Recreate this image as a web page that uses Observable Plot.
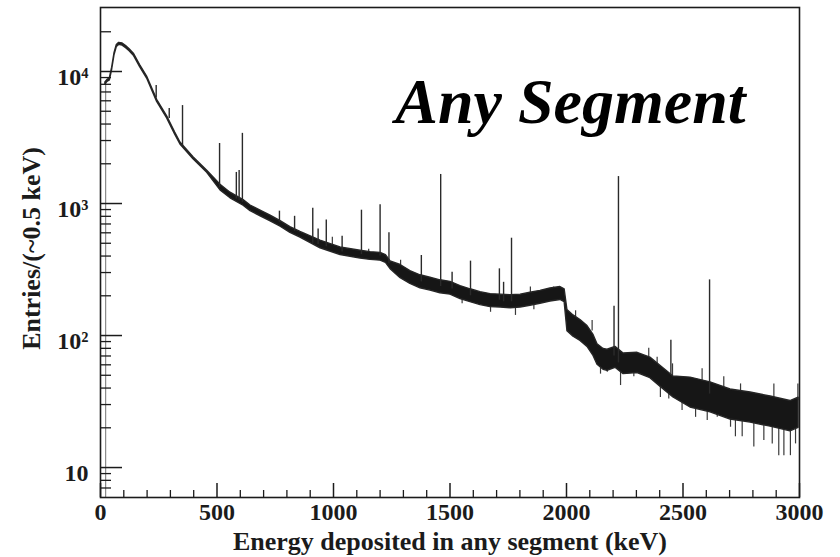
<!DOCTYPE html>
<html><head><meta charset="utf-8">
<script src="https://cdn.jsdelivr.net/npm/d3@7"></script>
<script src="https://cdn.jsdelivr.net/npm/@observablehq/plot@0.6"></script>
<style>body{margin:0;background:#fff}#chart svg{display:block}</style>
</head><body><div id="chart"></div>
<script>
// ---- data ----
// continuum band (energy in keV, lower / upper edge of the dense trace, entries per 0.5 keV)
const bandEnergy = [21,30,40,50,60,70,80,95,110,125,143,170,200,243,286,320,343,399,458,515,558,614,644,687,730,773,815,858,944,1030,1116,1159,1202,1225,1245,1288,1330,1373,1416,1459,1502,1545,1588,1631,1674,1717,1760,1803,1845,1888,1931,1974,1992,2004,2030,2060,2090,2116,2133,2159,2176,2210,2245,2305,2360,2403,2459,2532,2618,2704,2790,2876,2961,2996];
const bandLow = [7960,8350,8550,10310,13260,15320,15910,15720,15030,14240,13160,10810,8840,5890,4420,3340,2800,2160,1710,1257,1095,962,876,800,733,667,600,552,458,407,383,374,369,355,318,272,246,228,219,209,204,189,179,170,164,163,161,163,168,174,181,186,179,108,98,91,82,70,60,55,54,57,51,52,47.5,41,34,28.5,26.2,23.1,21.9,20.4,18.8,20];
const bandHigh = [8250,8650,8860,10690,13740,15880,16490,16290,15580,14760,13640,11200,9160,6110,4580,3460,2900,2240,1770,1386,1208,1061,966,882,809,735,662,609,524,465,439,428,423,407,364,342,308,286,274,262,255,237,224,213,206,204,202,204,211,218,227,233,224,156,142,131,118,101,86,79,78,82,73,74,68,59,49,48,44.2,39,37,34.5,31.9,33.8];

// gamma lines (energy, continuum under the line, top of the line)
const peakEnergy = [239,295,352,511,583,595,609,768,833,911,934,969,1037,1120,1200,1238,1377,1460,1509,1588,1712,1730,1764,2204,2223,2448,2614];
const peakBase = [6300,4400,2750,1320,1080,1050,1020,720,615,500,490,470,430,410,400,350,255,235,225,200,185,180,180,70,62,50,36];
const peakTop = [7830,5250,5520,2850,1720,1780,3400,875,800,920,640,750,565,890,980,600,404,1660,302,366,320,253,546,167,1600,92,264];

// statistical fluctuations sticking out of the band (energy, from, to)
const spikeEnergy = [995,1151,1273,1288,1552,1674,1781,1845,1860,1945,2039,2110,2146,2175,2232,2289,2353,2389,2403,2439,2455,2496,2554,2582,2604,2647,2675,2704,2725,2747,2754,2804,2847,2883,2890,2911,2933,2961,2983,2993];
const spikeFrom = [480,430,300,336,193,167,165,207,172,225,136,108,62,58,55,55,68,60,44,40,48,33,30,44,28,27,39,25,25,36,24,23,22,21.5,33,21,20.5,20,21,32];
const spikeTo = [556,450,285,372,174,150,142,233,157,233,154,130,51,52.6,41.8,48.7,80,68.6,34,33,61,27,24,56,22.7,24,48.7,20.2,17.1,43,17.1,14.3,16,15.1,43,12.3,12.3,12.3,15.1,43];

// low-energy threshold edge of the histogram
const thresholdEnergy = [22];
const thresholdTop = [8100];

const xMajorTicks = [0,500,1000,1500,2000,2500,3000];
const xMinorTicks = [100,200,300,400,600,700,800,900,1100,1200,1300,1400,1600,1700,1800,1900,2100,2200,2300,2400,2600,2700,2800,2900];
const yMajorTicks = [10,100,1000,10000];
const yTickLabels = ["10","10²","10³","10⁴"];
const yMinorTicks = [7,8,9,20,30,40,50,60,70,80,90,200,300,400,500,600,700,800,900,2000,3000,4000,5000,6000,7000,8000,9000,20000];

const xDomain = [0, 3000];
const yDomain = [5.93, 30540];

const titleText = "Any Segment";
const xTitle = "Energy deposited in any segment (keV)";
const yTitle = "Entries/(~0.5 keV)";

// ---- build tables ----
const band = bandEnergy.map((e,i)=>({e, lo: bandLow[i], hi: bandHigh[i]}));
const peaks = peakEnergy.map((e,i)=>({e, b: peakBase[i], t: peakTop[i]}));
const spikes = spikeEnergy.map((e,i)=>({e, a: spikeFrom[i], b: spikeTo[i]}));
const threshold = thresholdEnergy.map((e,i)=>({e, t: thresholdTop[i]}));

const W = 840, H = 557, mL = 100, mR = 41, mT = 7, mB = 60;
const pw = W - mL - mR, ph = H - mT - mB;
const serif = "'Liberation Serif','Times New Roman',serif";
const ink = "#1b1b1b";

const chart = Plot.plot({
  width: W, height: H,
  marginLeft: mL, marginRight: mR, marginTop: mT, marginBottom: mB,
  x: {domain: xDomain, axis: null},
  y: {type: "log", domain: yDomain, axis: null},
  style: {fontFamily: serif, background: "#fff", color: ink, overflow: "visible"},
  marks: [
    Plot.ruleX(threshold, {x: "e", y1: yDomain[0], y2: "t", stroke: "#8a8a8a", strokeWidth: 1.2}),
    Plot.ruleX(spikes, {x: "e", y1: "a", y2: "b", stroke: "#3a3a3a", strokeWidth: 1.2}),
    Plot.areaY(band, {x: "e", y1: "lo", y2: "hi", fill: "#161616", stroke: "#262626", strokeWidth: 1.4, strokeLinejoin: "round"}),
    Plot.ruleX(peaks, {x: "e", y1: "b", y2: "t", stroke: "#2a2a2a", strokeWidth: 1.4}),
    // ticks (inward)
    Plot.ruleY(yMajorTicks, {y: d=>d, insetRight: pw - 22, stroke: ink, strokeWidth: 1.5}),
    Plot.ruleY(yMinorTicks, {y: d=>d, insetRight: pw - 11, stroke: ink, strokeWidth: 1.3}),
    Plot.ruleX(xMajorTicks, {x: d=>d, insetTop: ph - 14, stroke: ink, strokeWidth: 1.5}),
    Plot.ruleX(xMinorTicks, {x: d=>d, insetTop: ph - 7, stroke: ink, strokeWidth: 1.3}),
    Plot.frame({stroke: ink, strokeWidth: 1.6}),
    // tick labels
    Plot.text(xMajorTicks, {x: d=>d, text: d=>String(d), frameAnchor: "bottom", dy: 22, lineAnchor: "bottom",
      textAnchor: "middle", fontSize: 24, fontWeight: "bold", fill: ink}),
    Plot.text(yMajorTicks, {y: d=>d, text: (d,i)=>yTickLabels[i], frameAnchor: "left", dx: -12, dy: 6,
      textAnchor: "end", lineAnchor: "middle", fontSize: 24, fontWeight: "bold", fill: ink}),
    // axis titles
    Plot.text([xTitle], {text: d=>d, frameAnchor: "bottom", dy: 52, lineAnchor: "bottom", textAnchor: "middle",
      fontSize: 26, fontWeight: "bold", fill: ink}),
    Plot.text([yTitle], {text: d=>d, frameAnchor: "left", dx: -69, dy: -4, rotate: -90, lineAnchor: "middle",
      textAnchor: "middle", fontSize: 26, fontWeight: "bold", fill: ink}),
    // in-plot title
    Plot.text([titleText], {text: d=>d, frameAnchor: "top-right", dx: -54, dy: 115, textAnchor: "end",
      lineAnchor: "bottom", fontSize: 64, fontWeight: "bold", fontStyle: "italic", fill: "#000"})
  ]
});
document.getElementById("chart").append(chart);
</script>
</body></html>
